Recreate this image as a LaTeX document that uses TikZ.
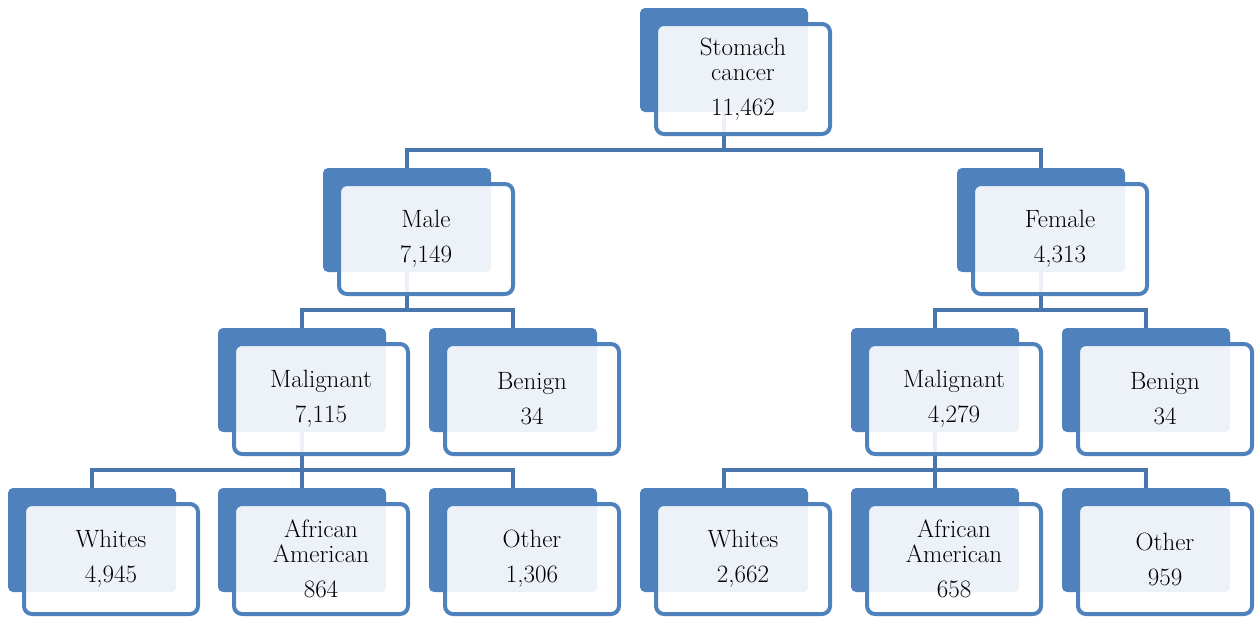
\documentclass[tikz,border=0pt]{standalone}
\usetikzlibrary{backgrounds}
\definecolor{boxblue}{HTML}{4F81BD}
\definecolor{linkblue}{HTML}{4A76AE}
\begin{document}
\begin{tikzpicture}[x=1pt,y=-1pt,
  backbox/.style={fill=boxblue, rounded corners=5pt, minimum width=168pt, minimum height=104pt, inner sep=0pt, outer sep=0pt},
  frontbox/.style={draw=boxblue, line width=4pt, fill=white, fill opacity=0.9, text opacity=1, rounded corners=8pt, minimum width=174pt, minimum height=110pt, inner sep=0pt, outer sep=0pt, align=center, font=\fontsize{25}{25}\selectfont},
  link/.style={draw=linkblue, line width=4.5pt}
]
\useasboundingbox (0,0) rectangle (1257,616);
% level 0
\node[backbox] (topb) at (724,60) {};
\node[frontbox] (top) at (743,79) {Stomach\\cancer\\[10pt]11,462};
% level 1
\node[backbox] (maleb) at (407,220) {};
\node[frontbox] (male) at (426,239) {Male\\[10pt]7,149};
\node[backbox] (femaleb) at (1041,220) {};
\node[frontbox] (female) at (1060,239) {Female\\[10pt]4,313};
% level 2
\node[backbox] (malLb) at (302,380) {};
\node[frontbox] (malL) at (321,399) {Malignant\\[10pt]7,115};
\node[backbox] (benLb) at (513,380) {};
\node[frontbox] (benL) at (532,399) {Benign\\[10pt]34};
\node[backbox] (malRb) at (935,380) {};
\node[frontbox] (malR) at (954,399) {Malignant\\[10pt]4,279};
\node[backbox] (benRb) at (1146,380) {};
\node[frontbox] (benR) at (1165,399) {Benign\\[10pt]34};
% level 3
\node[backbox] (whLb) at (92,540) {};
\node[frontbox] (whL) at (111,559) {Whites\\[10pt]4,945};
\node[backbox] (afLb) at (302,540) {};
\node[frontbox] (afL) at (321,559) {African\\American\\[10pt]864};
\node[backbox] (otLb) at (513,540) {};
\node[frontbox] (otL) at (532,559) {Other\\[10pt]1,306};
\node[backbox] (whRb) at (724,540) {};
\node[frontbox] (whR) at (743,559) {Whites\\[10pt]2,662};
\node[backbox] (afRb) at (935,540) {};
\node[frontbox] (afR) at (954,559) {African\\American\\[10pt]658};
\node[backbox] (otRb) at (1146,540) {};
\node[frontbox] (otR) at (1165,559) {Other\\[10pt]959};
% connectors
\begin{scope}[on background layer]
\draw[link] (topb.south) -- ++(0,38) -| (maleb.north);
\draw[link] (topb.south) -- ++(0,38) -| (femaleb.north);
\draw[link] (maleb.south) -- ++(0,38) -| (malLb.north);
\draw[link] (maleb.south) -- ++(0,38) -| (benLb.north);
\draw[link] (femaleb.south) -- ++(0,38) -| (malRb.north);
\draw[link] (femaleb.south) -- ++(0,38) -| (benRb.north);
\draw[link] (malLb.south) -- ++(0,38) -| (whLb.north);
\draw[link] (malLb.south) -- ++(0,38) -| (afLb.north);
\draw[link] (malLb.south) -- ++(0,38) -| (otLb.north);
\draw[link] (malRb.south) -- ++(0,38) -| (whRb.north);
\draw[link] (malRb.south) -- ++(0,38) -| (afRb.north);
\draw[link] (malRb.south) -- ++(0,38) -| (otRb.north);
\end{scope}
\end{tikzpicture}
\end{document}
